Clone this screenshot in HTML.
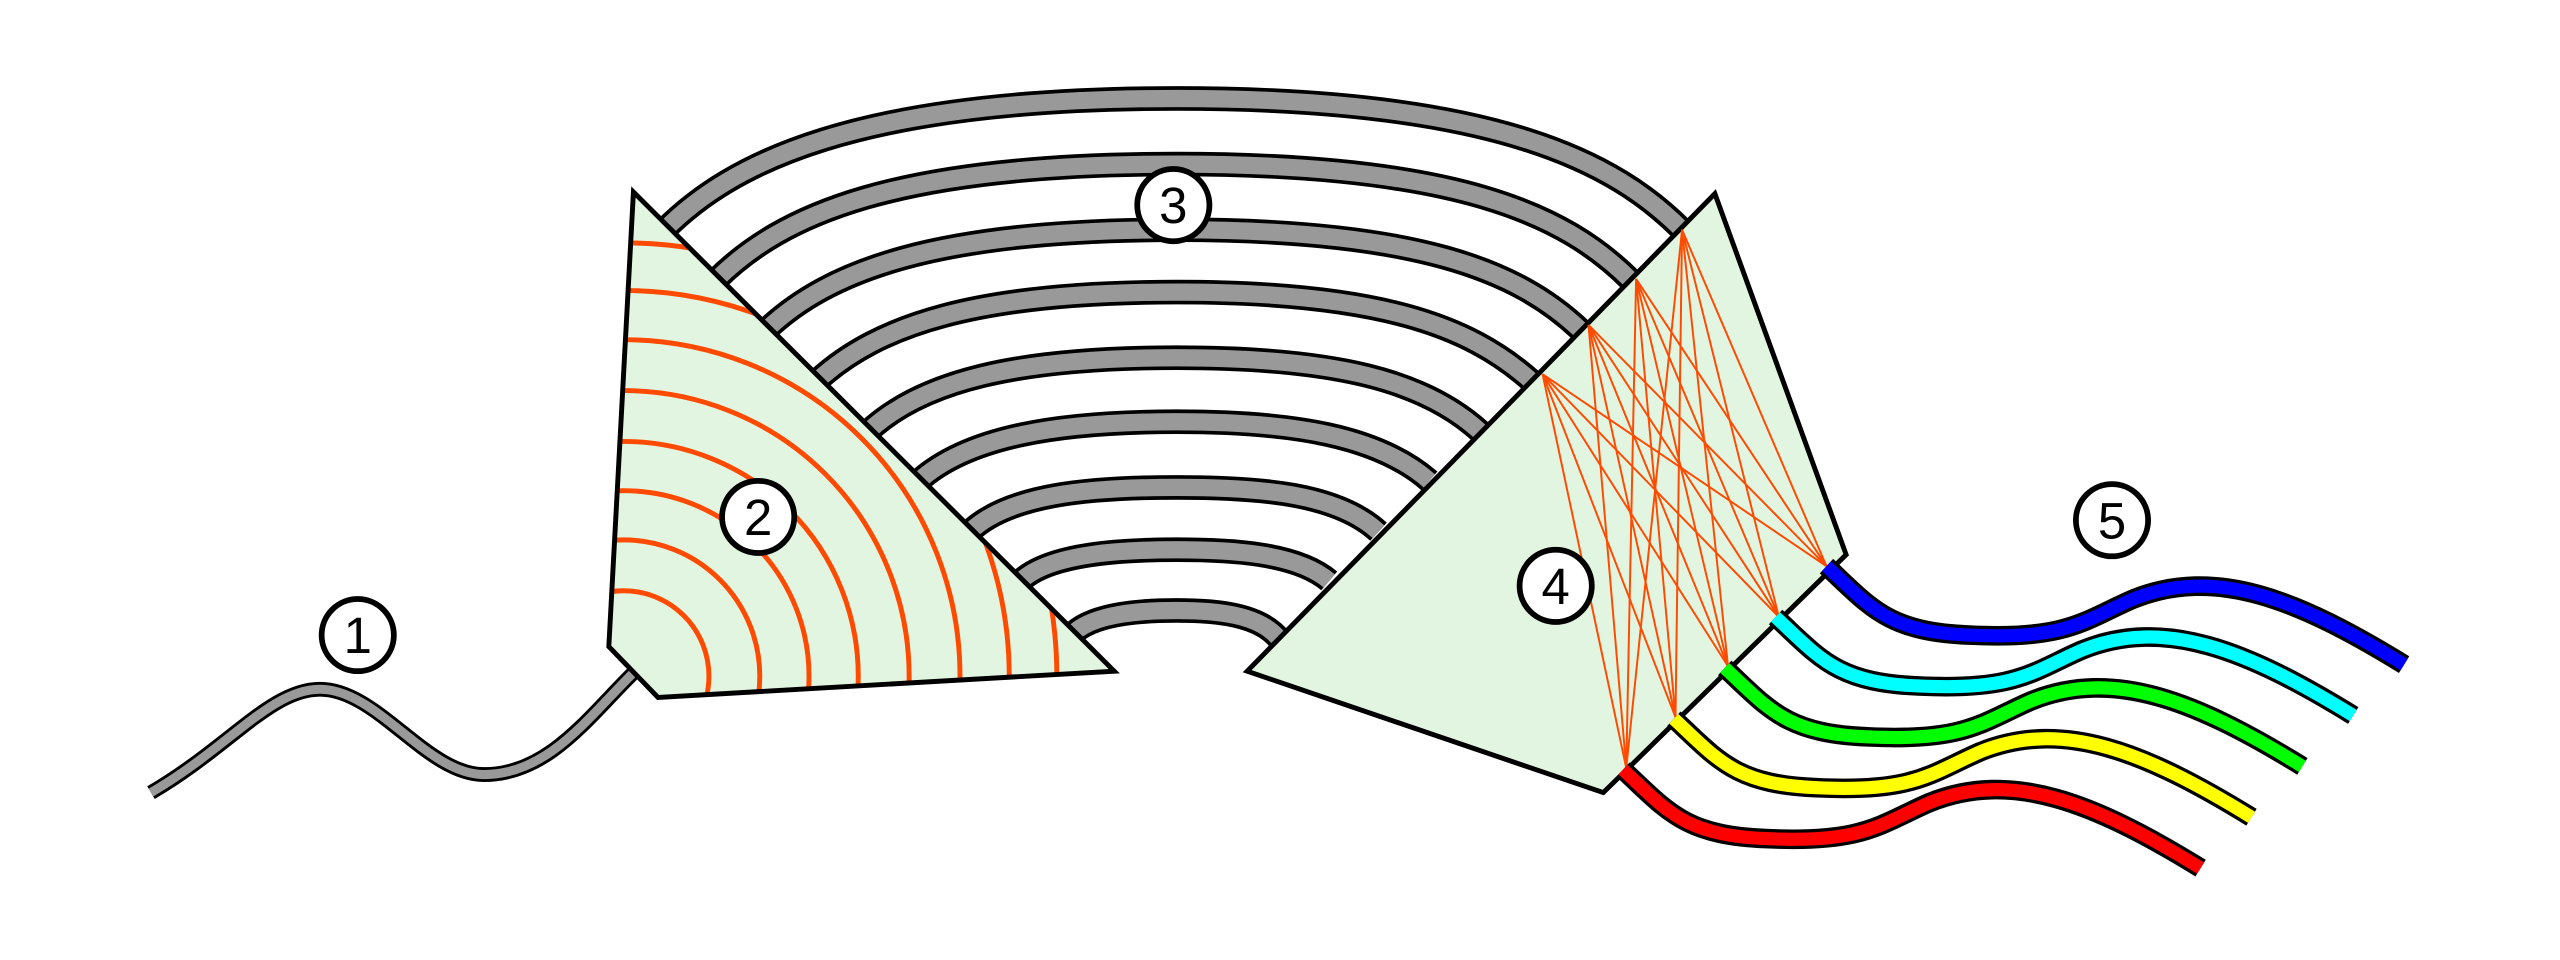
<!DOCTYPE html>
<html><head><meta charset="utf-8"><style>
html,body{margin:0;padding:0;background:#fff;width:2560px;height:960px;overflow:hidden;position:relative;}
svg{display:block;position:absolute;left:0;top:0;}
text{font-family:"Liberation Sans",sans-serif;}
</style></head><body>
<svg width="2560" height="960" viewBox="0 0 1560 585" xmlns="http://www.w3.org/2000/svg">
<defs>
<clipPath id="p2"><polygon points="386,117 679,409 401,425 371,394"/></clipPath>
</defs>
<path d="M92,483 C140,455 165,420 195,420 C230,420 260,472 295,472 C335,472 360,435 388,408" fill="none" stroke="#000" stroke-width="9"/>
<path d="M92,483 C140,455 165,420 195,420 C230,420 260,472 295,472 C335,472 360,435 388,408" fill="none" stroke="#999" stroke-width="5.5"/>
<g id="wg" fill="none">
<path d="M405,140 C445,100 520,60 717,60 C914,60 985,100 1025,140"/>
<path d="M436,171 C476,131 545,100 717,100 C889,100 954,131 994,171"/>
<path d="M467,201 C505,165 570,140 717,140 C864,140 925,165 963,201"/>
<path d="M498,232 C535,198 595,178 717,178 C839,178 895,198 933,232"/>
<path d="M529,263 C562,232 620,218 717,218 C814,218 868,232 902,263"/>
<path d="M560,293 C590,266 645,257 717,257 C789,257 840,266 871,293"/>
<path d="M591,324 C615,301 665,297 717,297 C769,297 815,301 840,324"/>
<path d="M622,354 C640,337 685,335 717,335 C750,335 790,337 810,354"/>
<path d="M655,385 C668,374 695,372 717,372 C740,372 768,374 780,390"/>
</g>
<use href="#wg" stroke="#000" stroke-width="15"/>
<g fill="none" stroke="#999" stroke-width="10.5">
<path d="M405,140 C445,100 520,60 717,60 C914,60 985,100 1025,140"/>
<path d="M436,171 C476,131 545,100 717,100 C889,100 954,131 994,171"/>
<path d="M467,201 C505,165 570,140 717,140 C864,140 925,165 963,201"/>
<path d="M498,232 C535,198 595,178 717,178 C839,178 895,198 933,232"/>
<path d="M529,263 C562,232 620,218 717,218 C814,218 868,232 902,263"/>
<path d="M560,293 C590,266 645,257 717,257 C789,257 840,266 871,293"/>
<path d="M591,324 C615,301 665,297 717,297 C769,297 815,301 840,324"/>
<path d="M622,354 C640,337 685,335 717,335 C750,335 790,337 810,354"/>
<path d="M655,385 C668,374 695,372 717,372 C740,372 768,374 780,390"/>
</g>
<polygon points="386,117 679,409 401,425 371,394" fill="#e2f5e0"/>
<g clip-path="url(#p2)" fill="none" stroke="#ff4a00" stroke-width="3">
<circle cx="380" cy="412" r="52"/><circle cx="380" cy="412" r="83"/>
<circle cx="380" cy="412" r="113"/><circle cx="380" cy="412" r="143"/>
<circle cx="380" cy="412" r="174"/><circle cx="380" cy="412" r="205"/>
<circle cx="380" cy="412" r="235"/><circle cx="380" cy="412" r="264"/>
</g>
<polygon points="386,117 679,409 401,425 371,394" fill="none" stroke="#000" stroke-width="3"/>
<polygon points="760,409 1045,118 1125,338 977,483" fill="#e2f5e0" stroke="#000" stroke-width="3"/>
<g stroke="#ff4a00" stroke-width="1.2">
<line x1="940" y1="228" x2="1113" y2="345"/><line x1="940" y1="228" x2="1084" y2="376"/><line x1="940" y1="228" x2="1053" y2="406"/><line x1="940" y1="228" x2="1021" y2="437"/><line x1="940" y1="228" x2="991" y2="468"/>
<line x1="968" y1="198" x2="1113" y2="345"/><line x1="968" y1="198" x2="1084" y2="376"/><line x1="968" y1="198" x2="1053" y2="406"/><line x1="968" y1="198" x2="1021" y2="437"/><line x1="968" y1="198" x2="991" y2="468"/>
<line x1="997" y1="170" x2="1113" y2="345"/><line x1="997" y1="170" x2="1084" y2="376"/><line x1="997" y1="170" x2="1053" y2="406"/><line x1="997" y1="170" x2="1021" y2="437"/><line x1="997" y1="170" x2="991" y2="468"/>
<line x1="1025" y1="140" x2="1113" y2="345"/><line x1="1025" y1="140" x2="1084" y2="376"/><line x1="1025" y1="140" x2="1053" y2="406"/><line x1="1025" y1="140" x2="1021" y2="437"/><line x1="1025" y1="140" x2="991" y2="468"/>
</g>
<g fill="none" stroke="#000" stroke-width="12">
<path d="M1113,345 C1140,370 1150,385 1200,387 C1260,390 1270,378 1300,365 C1350,345 1400,365 1465,405"/>
<path d="M1082,376 C1109,401 1119,416 1169,418 C1229,421 1239,409 1269,396 C1319,376 1369,396 1434,436"/>
<path d="M1051,407 C1078,432 1088,447 1138,449 C1198,452 1208,440 1238,427 C1288,407 1338,427 1403,467"/>
<path d="M1020,438 C1047,463 1057,478 1107,480 C1167,483 1177,471 1207,458 C1257,438 1307,458 1372,498"/>
<path d="M989,469 C1016,494 1026,509 1076,511 C1136,514 1146,502 1176,489 C1226,469 1276,489 1341,529"/>
</g>
<g fill="none" stroke-width="8">
<path stroke="#0000ff" d="M1113,345 C1140,370 1150,385 1200,387 C1260,390 1270,378 1300,365 C1350,345 1400,365 1465,405"/>
<path stroke="#00ffff" d="M1082,376 C1109,401 1119,416 1169,418 C1229,421 1239,409 1269,396 C1319,376 1369,396 1434,436"/>
<path stroke="#00ff00" d="M1051,407 C1078,432 1088,447 1138,449 C1198,452 1208,440 1238,427 C1288,407 1338,427 1403,467"/>
<path stroke="#ffff00" d="M1020,438 C1047,463 1057,478 1107,480 C1167,483 1177,471 1207,458 C1257,438 1307,458 1372,498"/>
<path stroke="#ff0000" d="M989,469 C1016,494 1026,509 1076,511 C1136,514 1146,502 1176,489 C1226,469 1276,489 1341,529"/>
</g>
<g fill="#fff" stroke="#000" stroke-width="3.5">
<circle cx="218" cy="387" r="22"/><circle cx="462" cy="315" r="22"/>
<circle cx="715" cy="125" r="22"/><circle cx="948" cy="357" r="22"/>
<circle cx="1287" cy="317" r="22"/>
</g>
<g font-size="31" text-anchor="middle" fill="#000">
<text x="218" y="398">1</text><text x="462" y="326">2</text>
<text x="715" y="136">3</text><text x="948" y="368">4</text>
<text x="1287" y="328">5</text>
</g>
</svg>
</body></html>
